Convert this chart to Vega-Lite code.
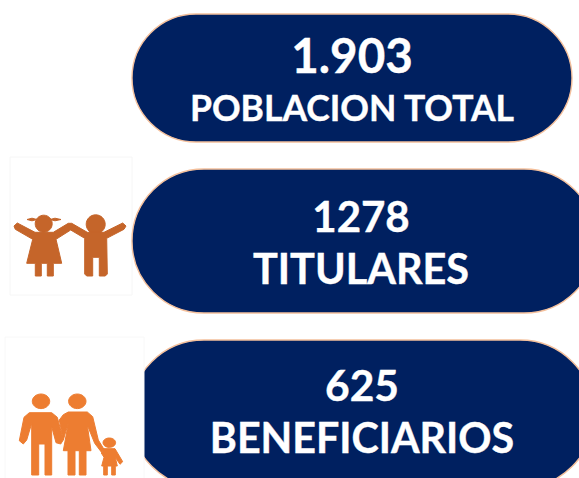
{"$schema":"https://vega.github.io/schema/vega-lite/v6.json","width":579,"height":478,"padding":0,"autosize":{"type":"none"},"background":"white","config":{"view":{"stroke":null}},
"data":{"values":[{"categoria":"POBLACION TOTAL","valor":"1.903"},{"categoria":"TITULARES","valor":"1278"},{"categoria":"BENEFICIARIOS","valor":"625"}]},
"encoding":{"x":{"field":"categoria","type":"nominal","axis":null,"scale":{"type":"point","domain":["POBLACION TOTAL","TITULARES","BENEFICIARIOS"],"range":[352,362],"padding":0}},"y":{"field":"categoria","type":"nominal","axis":null,"scale":{"type":"point","domain":["POBLACION TOTAL","TITULARES","BENEFICIARIOS"],"range":[78,414],"padding":0}}},
"layer":[
{"transform":[{"filter":"datum.categoria==='TITULARES'"}],"mark":{"type":"rect","width":122,"height":138,"fill":"white","stroke":"#f6f6f6","strokeWidth":1,"xOffset":-286,"yOffset":-20}},
{"transform":[{"filter":"datum.categoria==='POBLACION TOTAL'"}],"mark":{"type":"rect","width":440,"height":128,"cornerRadius":64,"fill":"#002060","stroke":"#f4c09c","strokeWidth":1.4}},
{"transform":[{"filter":"datum.categoria==='TITULARES'"}],"mark":{"type":"rect","width":464,"height":144,"cornerRadius":72,"fill":"#002060","stroke":"#f4c09c","strokeWidth":1.4,"xOffset":7,"yOffset":-5}},
{"transform":[{"filter":"datum.categoria==='BENEFICIARIOS'"}],"mark":{"type":"rect","width":464,"height":148,"cornerRadius":74,"fill":"#002060","stroke":"#f4c09c","strokeWidth":1.4}},
{"transform":[{"filter":"datum.categoria==='BENEFICIARIOS'"}],"mark":{"type":"rect","width":139,"height":154,"fill":"white","stroke":"#f8f8f8","strokeWidth":1,"xOffset":-287.5}},
{"transform":[{"filter":"datum.categoria==='TITULARES'"}],"mark":{"type":"point","filled":true,"opacity":1,"size":4,"color":"#c5652a","stroke":"#c5652a","strokeWidth":1,"xOffset":-287,"shape":"M-52.7 -23L-35 -13.7L-16.7 -13.7L-1.7 -22.7L1.7 -22.7L17.3 -13.7L34 -13.7L52.7 -23L56 -20L54 -16.7L36.7 -7.7L37.3 28L35.3 30L29.3 30L29.3 11.3L22.7 11.3L22.7 30L16.7 30L14.7 28L14.7 -7.7L0.7 -16L-14 -6.7L-8.3 17.3L-16.7 17.3L-16.7 30L-22.7 30L-22.7 17.3L-28.7 17.3L-28.7 30L-34.7 30L-34.7 17.3L-43.3 17.3L-37.3 -6.7L-54.7 -16.7L-56 -20ZM-34.8 -22.3A8.5 8.5 0 1 1 -17.8 -22.3A8.5 8.5 0 1 1 -34.8 -22.3ZM16.2 -21.7A9.5 9.5 0 1 1 35.2 -21.7A9.5 9.5 0 1 1 16.2 -21.7ZM-43 -26.5L-38 -27.8L-33 -26.5L-38 -25.2ZM-20 -26.5L-15 -27.8L-9 -26.5L-15 -25.2Z"}},
{"transform":[{"filter":"datum.categoria==='BENEFICIARIOS'"}],"mark":{"type":"point","filled":true,"opacity":1,"size":4,"color":"#ed7d31","stroke":"#ed7d31","strokeWidth":1,"xOffset":-287,"yOffset":16,"shape":"M-51 -12.7L-45.7 -17.3L-23.3 -17.3L-17.7 -12.7L-11.7 10L-14.3 14L-19 12.7L-23.3 -3.3L-23.3 45L-30 45L-30 14L-36.3 14L-36.3 45L-43.3 45L-43.3 -6.7L-48.3 10L-51.7 14L-55.7 10.7ZM-15.7 -10L-11.7 -15.3L-6.7 -18L12.3 -18L17.7 -13.3L23.3 10L29 19.3L26.3 22L19.7 13.3L12.3 -5L16 20.7L11 20.7L11 45L4.3 45L4.3 20.7L0 20.7L0 45L-7 45L-7 20.7L-11.7 20.7L-6.7 -6.7L-11.7 10ZM29 18.7L40 18.7L47.7 31.7L45 34.3L40.3 27.3L42.3 36L40.3 36L40.3 45L36.7 45L36.7 36L32.3 36L32.3 45L28.7 45L28.7 36L26.7 36L29 27.3L26.3 23ZM-42.7 -28.7A8.7 7.3 0 1 1 -25.3 -28.7A8.7 7.3 0 1 1 -42.7 -28.7ZM-6.4 -28.7A8.7 7.3 0 1 1 11 -28.7A8.7 7.3 0 1 1 -6.4 -28.7ZM28 12.7A6.3 4.7 0 1 1 40.6 12.7A6.3 4.7 0 1 1 28 12.7Z"}},
{"transform":[{"filter":"datum.categoria==='POBLACION TOTAL'"}],"mark":{"type":"text","font":"Lato","fontWeight":"bold","fontSize":47.5,"color":"white","stroke":"white","strokeWidth":0.4,"baseline":"alphabetic","yOffset":-5},"encoding":{"text":{"field":"valor"}}},
{"transform":[{"filter":"datum.categoria==='POBLACION TOTAL'"}],"mark":{"type":"text","font":"Lato","fontWeight":"bold","fontSize":35.5,"color":"white","stroke":"white","strokeWidth":0.4,"baseline":"alphabetic","yOffset":43},"encoding":{"text":{"field":"categoria"}}},
{"transform":[{"filter":"datum.categoria==='TITULARES'"}],"mark":{"type":"text","font":"Lato","fontWeight":"bold","fontSize":42,"color":"white","stroke":"white","strokeWidth":0.4,"baseline":"alphabetic","xOffset":4,"yOffset":-14},"encoding":{"text":{"field":"valor"}}},
{"transform":[{"filter":"datum.categoria==='TITULARES'"}],"mark":{"type":"text","font":"Lato","fontWeight":"bold","fontSize":41.4,"color":"white","stroke":"white","strokeWidth":0.4,"baseline":"alphabetic","xOffset":4,"yOffset":38},"encoding":{"text":{"field":"categoria"}}},
{"transform":[{"filter":"datum.categoria==='BENEFICIARIOS'"}],"mark":{"type":"text","font":"Lato","fontWeight":"bold","fontSize":42.5,"color":"white","stroke":"white","strokeWidth":0.4,"baseline":"alphabetic","yOffset":-13},"encoding":{"text":{"field":"valor"}}},
{"transform":[{"filter":"datum.categoria==='BENEFICIARIOS'"}],"mark":{"type":"text","font":"Lato","fontWeight":"bold","fontSize":41.2,"color":"white","stroke":"white","strokeWidth":0.4,"baseline":"alphabetic","yOffset":39},"encoding":{"text":{"field":"categoria"}}}
]}
